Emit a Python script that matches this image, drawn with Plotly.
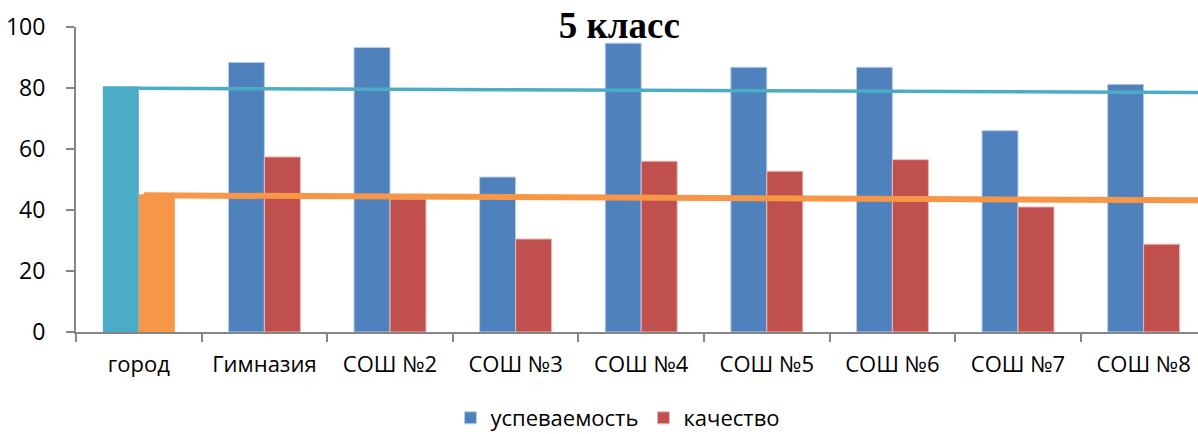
import plotly.graph_objects as go

categories = ["город", "Гимназия", "СОШ №2", "СОШ №3", "СОШ №4", "СОШ №5", "СОШ №6", "СОШ №7", "СОШ №8"]
uspevaemost = [80.6, 88.4, 93.3, 50.8, 94.7, 86.8, 86.8, 66.0, 81.2]
kachestvo = [45.2, 57.4, 43.6, 30.5, 56.0, 52.7, 56.5, 41.0, 28.8]
y_ticks = [0, 20, 40, 60, 80, 100]

# city-level reference lines (start/end positions in category units and values)
teal_line_x = [0.0, 8.433]
teal_line_y = [79.9, 78.5]
orange_line_x = [0.04, 8.433]
orange_line_y = [44.8, 43.2]

BLUE = "#4F81BD"
RED = "#C0504D"
TEAL = "#4BACC6"
ORANGE = "#F79646"
AXIS = "#868686"
FONT = "Open Sans"

fig = go.Figure()
fig.add_trace(go.Bar(x=categories[:1], y=uspevaemost[:1], marker=dict(color=TEAL, line=dict(width=0)),
                     offsetgroup="a", showlegend=False, hoverinfo="skip"))
fig.add_trace(go.Bar(x=categories[:1], y=kachestvo[:1], marker=dict(color=ORANGE, line=dict(width=0)),
                     offsetgroup="b", showlegend=False, hoverinfo="skip"))
fig.add_trace(go.Bar(x=categories[1:], y=uspevaemost[1:], name="успеваемость",
                     marker=dict(color=BLUE, line=dict(width=1, color="#B9CDE5")), offsetgroup="a"))
fig.add_trace(go.Bar(x=categories[1:], y=kachestvo[1:], name="качество",
                     marker=dict(color=RED, line=dict(width=1, color="#E6B9B8")), offsetgroup="b"))

fig.add_trace(go.Scatter(x=teal_line_x, y=teal_line_y, mode="lines", xaxis="x2",
                         line=dict(color=TEAL, width=3.5), showlegend=False, hoverinfo="skip"))
fig.add_trace(go.Scatter(x=orange_line_x, y=orange_line_y, mode="lines", xaxis="x2",
                         line=dict(color=ORANGE, width=6), showlegend=False, hoverinfo="skip"))

xr = [-0.5, 8.433]
fig.update_layout(
    width=1198, height=434,
    margin=dict(l=76, r=0, t=27, b=102, autoexpand=False),
    paper_bgcolor="white", plot_bgcolor="white",
    barmode="group", bargap=0.427, bargroupgap=0,
    font=dict(family=FONT, size=22, color="#000000"),
    title=dict(text="<b>5 класс</b>", x=0.517, xanchor="center", y=1 - 25 / 434, yanchor="middle",
               yref="container", font=dict(family="Liberation Serif", size=37, color="#000000")),
    xaxis=dict(type="category", categoryorder="array", categoryarray=categories, range=xr,
               showline=True, linecolor=AXIS, linewidth=2, ticks="outside", tickson="boundaries",
               ticklen=8, tickwidth=2, tickcolor=AXIS, showgrid=False, zeroline=False, automargin=False,
               ticklabelstandoff=12, tickfont=dict(size=22, color="#000000")),
    xaxis2=dict(overlaying="x", range=xr, visible=False, showgrid=False, zeroline=False),
    yaxis=dict(range=[0, 100], tickvals=y_ticks, showline=True, linecolor=AXIS, linewidth=2,
               ticks="outside", ticklen=8, tickwidth=2, tickcolor=AXIS, showgrid=False, zeroline=False,
               automargin=False, ticklabelstandoff=16, tickfont=dict(size=23, color="#000000")),
    legend=dict(orientation="h", x=0.483, xanchor="center", xref="paper",
                y=1 - 418 / 434, yanchor="middle", yref="container",
                font=dict(size=22, color="#000000"), itemwidth=30, traceorder="normal"),
    showlegend=True,
)

fig.write_html("out.html", config={"displayModeBar": False},
               post_script="document.body.style.margin='0';document.body.style.overflow='hidden';")
